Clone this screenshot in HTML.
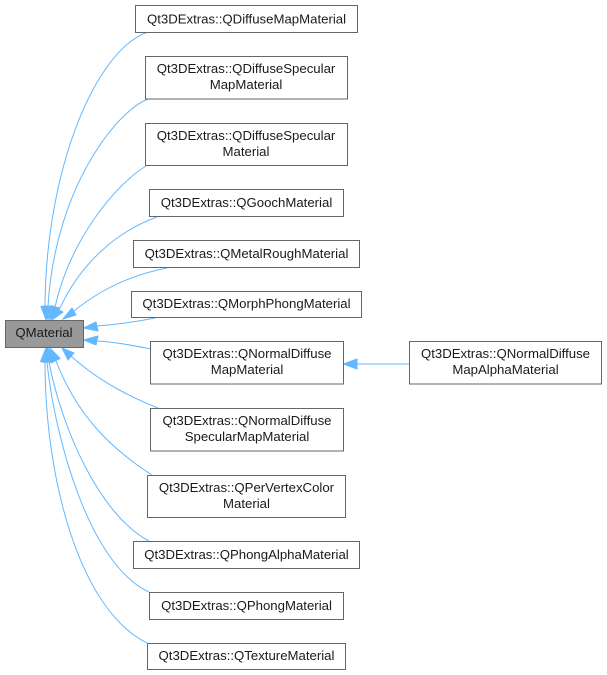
<!DOCTYPE html>
<html>
<head>
<meta charset="utf-8">
<style>
html,body{margin:0;padding:0;background:#fff;}
svg{display:block;}
text{font-family:"Liberation Sans",Arial,sans-serif;font-size:13.2px;fill:#1a1a1a;text-anchor:middle;}
rect{fill:#fff;stroke:#666;stroke-width:1;}
path{fill:none;stroke:#63b8ff;stroke-width:1;}
polygon{fill:#63b8ff;stroke:#63b8ff;stroke-width:1;}
</style>
</head>
<body>
<svg width="607" height="675" viewBox="0 0 607 675" xmlns="http://www.w3.org/2000/svg">
<rect x="0" y="0" width="607" height="675" style="fill:#fff;stroke:none"/>

<!-- edges -->
<path d="M148,32 C95,50 46,170 45,306"/>
<path d="M148,99 C115,112 55,190 48,306"/>
<path d="M146,166 C115,185 70,240 55,307"/>
<path d="M157,217 C115,232 80,265 60,308"/>
<path d="M167,268 C130,275 100,290 74,311"/>
<path d="M155,318 C130,323 110,325 97,326"/>
<path d="M151,349 C130,345 115,342 97,341"/>
<path d="M158,408 C125,395 95,378 71,356"/>
<path d="M152,475 C105,445 75,410 56,361"/>
<path d="M149,541 C100,515 62,430 49,362"/>
<path d="M149,592 C90,565 55,440 47,362"/>
<path d="M147,643 C80,610 45,480 45,362"/>
<path d="M409,364 L357,364"/>

<!-- arrowheads -->
<polygon points="46,320 41,306.5 50,306"/>
<polygon points="48,320 43.5,306 53,306"/>
<polygon points="50,320 50,306 60,308"/>
<polygon points="52,320 53,306 63,312"/>
<polygon points="63,319 72,308 76,315"/>
<polygon points="83.5,328 96,322 98,331"/>
<polygon points="83.5,340 98,336 96,345"/>
<polygon points="62,348 74,353 68,360"/>
<polygon points="50,348 51,363 60,358.5"/>
<polygon points="48,348 44,362.5 54,361"/>
<polygon points="47,348 42,362 52,362"/>
<polygon points="46,348 40.5,361.5 50.5,362"/>
<polygon points="343.5,364 357,359 357,369"/>

<!-- root -->
<rect x="5.5" y="320.5" width="78" height="27" style="fill:#999"/>
<text x="44" y="337">QMaterial</text>

<!-- nodes -->
<rect x="135.5" y="5.5" width="222" height="27"/>
<text x="246.5" y="23.5">Qt3DExtras::QDiffuseMapMaterial</text>

<rect x="145.5" y="56.5" width="202" height="42.5"/>
<text x="246" y="73">Qt3DExtras::QDiffuseSpecular</text>
<text x="246" y="89">MapMaterial</text>

<rect x="145.5" y="123.5" width="202" height="42"/>
<text x="246" y="140">Qt3DExtras::QDiffuseSpecular</text>
<text x="246" y="156">Material</text>

<rect x="149.5" y="189.5" width="194" height="27"/>
<text x="246.5" y="207">Qt3DExtras::QGoochMaterial</text>

<rect x="133.5" y="240.5" width="226" height="27"/>
<text x="246.5" y="258">Qt3DExtras::QMetalRoughMaterial</text>

<rect x="131.5" y="291.5" width="230" height="26"/>
<text x="246.5" y="308">Qt3DExtras::QMorphPhongMaterial</text>

<rect x="150.5" y="341.5" width="193" height="42.5"/>
<text x="247" y="358">Qt3DExtras::QNormalDiffuse</text>
<text x="247" y="374">MapMaterial</text>

<rect x="150.5" y="408.5" width="193" height="42.5"/>
<text x="247" y="425">Qt3DExtras::QNormalDiffuse</text>
<text x="247" y="441">SpecularMapMaterial</text>

<rect x="147.5" y="475.5" width="198" height="42"/>
<text x="246.5" y="492">Qt3DExtras::QPerVertexColor</text>
<text x="246.5" y="508">Material</text>

<rect x="133.5" y="541.5" width="226" height="27"/>
<text x="246.5" y="559">Qt3DExtras::QPhongAlphaMaterial</text>

<rect x="149.5" y="592.5" width="194" height="27"/>
<text x="246.5" y="610">Qt3DExtras::QPhongMaterial</text>

<rect x="147.5" y="643.5" width="198" height="26"/>
<text x="246.5" y="660">Qt3DExtras::QTextureMaterial</text>

<rect x="409.5" y="341.5" width="192" height="42.5"/>
<text x="505.5" y="358">Qt3DExtras::QNormalDiffuse</text>
<text x="505.5" y="374">MapAlphaMaterial</text>
</svg>
</body>
</html>
